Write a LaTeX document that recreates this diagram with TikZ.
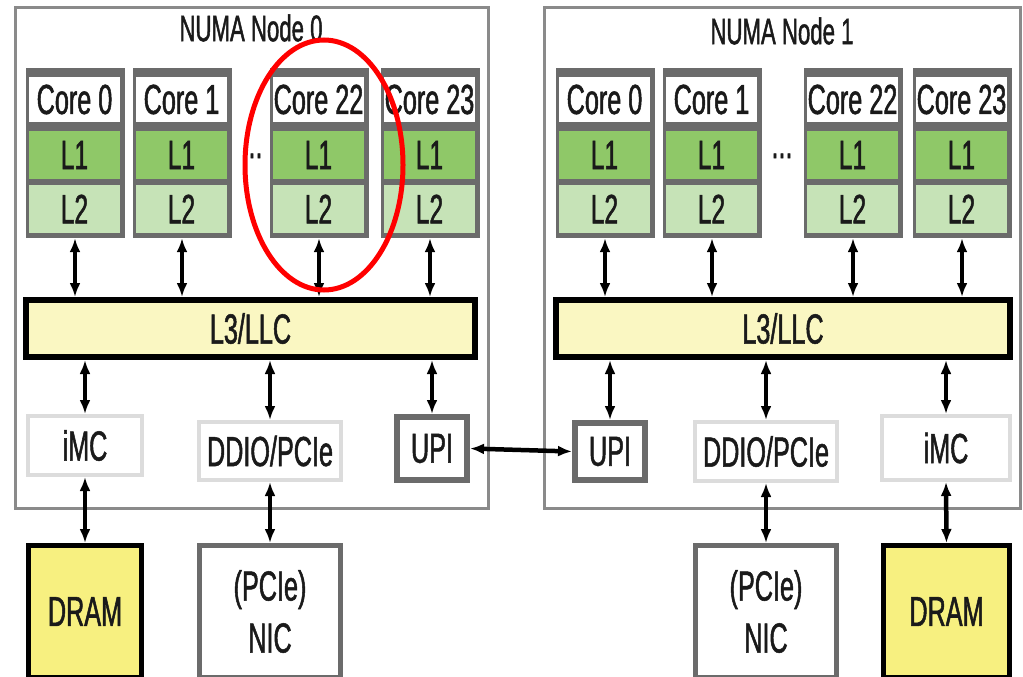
\documentclass[tikz,border=0pt]{standalone}
\usepackage{fontspec}
\setmainfont{Liberation Sans}[FakeStretch=0.6, FakeBold=1.2]
\usetikzlibrary{arrows.meta,shapes.geometric}
\definecolor{framegray}{HTML}{6B6B6B}
\definecolor{lonegreen}{HTML}{8FC868}
\definecolor{ltwogreen}{HTML}{C6E3B7}
\definecolor{llcyellow}{HTML}{FAF7C2}
\definecolor{dramyellow}{HTML}{F7F080}
\definecolor{lightframe}{HTML}{DCDCDC}
\definecolor{numagray}{HTML}{8A8A8A}
\definecolor{inkc}{HTML}{1A1A1A}
\tikzset{
  txt/.style={font=\fontsize{42}{52}\selectfont, text=inkc, align=center},
  ltxt/.style={font=\fontsize{41}{48}\selectfont, text=inkc},
  numabox/.style={draw=numagray, line width=3pt},
  numatitle/.style={font=\fontsize{37}{44}\selectfont, text=inkc},
  coreframe/.style={fill=framegray, inner sep=0pt, minimum width=99pt, minimum height=170pt},
  corelabel/.style={fill=white, inner sep=0pt, minimum width=91pt, minimum height=45pt, txt},
  lone/.style={fill=lonegreen, inner sep=0pt, minimum width=91pt, minimum height=48pt, ltxt},
  ltwo/.style={fill=ltwogreen, inner sep=0pt, minimum width=91pt, minimum height=48pt, ltxt},
  llc/.style={draw=black, line width=6pt, fill=llcyellow, inner sep=0pt, txt},
  lightbox/.style={draw=lightframe, line width=4pt, fill=white, inner sep=0pt, txt},
  darkbox/.style={draw=framegray, line width=6pt, fill=white, inner sep=0pt, txt},
  dram/.style={draw=black, line width=5pt, fill=dramyellow, inner sep=0pt, txt},
  nic/.style={draw=framegray, line width=5pt, fill=white, inner sep=0pt, txt},
  biarrow/.style={{Latex[length=14pt,width=11pt]}-{Latex[length=14pt,width=11pt]}, line width=3.5pt, draw=black},
  thickarrow/.style={biarrow, line width=4.5pt},
  highlight/.style={draw=red, line width=5pt, ellipse, inner sep=0pt, minimum width=158pt, minimum height=250pt},
}
\begin{document}
\begin{tikzpicture}[x=1pt,y=-1pt]
\useasboundingbox (0,0) rectangle (1023,677);
\fill[white] (0,0) rectangle (1023,677);

% NUMA node frames
\node[numabox, inner sep=0pt, minimum width=473pt, minimum height=501pt] (numa0) at (252,258) {};
\node[numabox, inner sep=0pt, minimum width=476pt, minimum height=501pt] (numa1) at (782.5,258) {};
\node[numatitle] (t0) at (251,28) {NUMA Node 0};
\node[numatitle] (t1) at (782,31) {NUMA Node 1};

% cores
\foreach \n/\cx/\lab in {a0/75/Core 0, a1/182/Core 1, a22/319/Core 22, a23/430/Core 23,
                         b0/605/Core 0, b1/712/Core 1, b22/853/Core 22, b23/962/Core 23} {
  \node[coreframe] (\n) at (\cx,153) {};
  \node[corelabel] (\n-l) at (\cx-0.5,99.5) {\lab};
  \node[lone] (\n-1) at (\cx-0.5,155) {L1};
  \node[ltwo] (\n-2) at (\cx-0.5,209) {L2};
}
\node[txt, anchor=base, inner sep=0pt] (dots0) at (252,158) {...};
\node[txt, anchor=base, inner sep=0pt] (dots1) at (782,158) {...};

% L3
\node[llc, minimum width=449pt, minimum height=57pt] (l3a) at (250.5,328.5) {L3/LLC};
\node[llc, minimum width=454pt, minimum height=57pt] (l3b) at (783,328.5) {L3/LLC};

% lower units node 0
\node[lightbox, minimum width=114pt, minimum height=59pt] (imca) at (85,445.5) {iMC};
\node[lightbox, minimum width=142pt, minimum height=58pt] (ddioa) at (270,451) {DDIO/PCIe};
\node[darkbox, minimum width=70pt, minimum height=63pt] (upia) at (432,448.5) {UPI};
% lower units node 1
\node[darkbox, minimum width=70pt, minimum height=57pt] (upib) at (610,451.5) {UPI};
\node[lightbox, minimum width=142pt, minimum height=59pt] (ddiob) at (766,451.5) {DDIO/PCIe};
\node[lightbox, minimum width=128pt, minimum height=64pt] (imcb) at (946,448) {iMC};

% external
\node[dram, minimum width=113pt, minimum height=132pt] (drama) at (85,611.5) {DRAM};
\node[nic, minimum width=141pt, minimum height=132pt] (nica) at (270,611.5) {(PCIe)\\NIC};
\node[nic, minimum width=141pt, minimum height=132pt] (nicb) at (766,611.5) {(PCIe)\\NIC};
\node[dram, minimum width=126pt, minimum height=132pt] (dramb) at (946.5,611.5) {DRAM};

% core <-> L3 arrows
\foreach \n in {a0,a1,a22,a23} {
  \draw[biarrow] (\n.south) -- (\n.south |- l3a.north);
}
\foreach \n in {b0,b1,b22,b23} {
  \draw[biarrow] (\n.south) -- (\n.south |- l3b.north);
}

% L3 <-> units
\draw[biarrow] (l3a.south -| imca.north) -- (imca.north);
\draw[biarrow] (l3a.south -| ddioa.north) -- (ddioa.north);
\draw[biarrow] (l3a.south -| upia.north) -- (upia.north);
\draw[biarrow] (l3b.south -| upib.north) -- (upib.north);
\draw[biarrow] (l3b.south -| ddiob.north) -- (ddiob.north);
\draw[biarrow] (l3b.south -| imcb.north) -- (imcb.north);

% units <-> external
\draw[thickarrow] (imca.south) -- (drama.north);
\draw[biarrow] (ddioa.south) -- (nica.north);
\draw[biarrow] (ddiob.south) -- (nicb.north);
\draw[thickarrow] (imcb.south) -- (dramb.north);

% UPI link
\draw[thickarrow] (upia.east) -- (upib.west);

% highlight
\node[highlight] (hl) at (324,165) {};
\end{tikzpicture}
\end{document}
